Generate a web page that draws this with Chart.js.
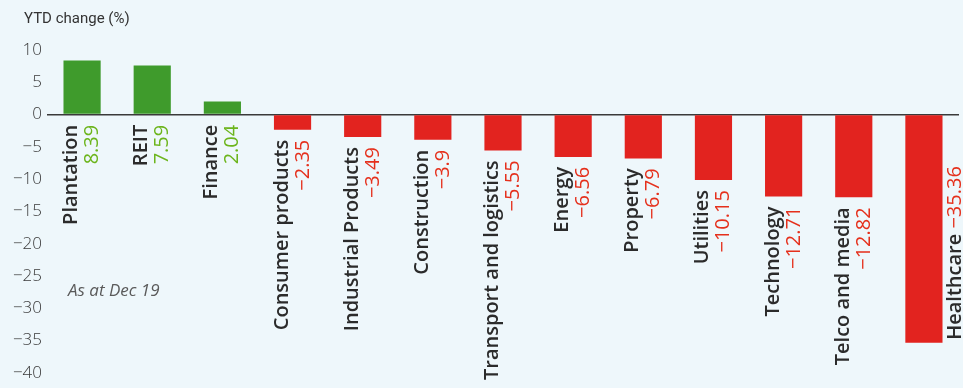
<!DOCTYPE html>
<html>
<head>
<meta charset="utf-8">
<script src="https://cdn.jsdelivr.net/npm/chart.js@4"></script>
<style>
  html, body { margin: 0; padding: 0; background: #eef7fb; }
  #wrap { width: 963px; height: 388px; position: relative; }
</style>
</head>
<body>
<div id="wrap"><canvas id="ytdChart"></canvas></div>
<script>
// Sector YTD change (%)
const categories = [
  "Plantation", "REIT", "Finance", "Consumer products", "Industrial Products",
  "Construction", "Transport and logistics", "Energy", "Property", "Utilities",
  "Technology", "Telco and media", "Healthcare"
];
const ytdChange = [8.39, 7.59, 2.04, -2.35, -3.49, -3.9, -5.55, -6.56, -6.79, -10.15, -12.71, -12.82, -35.36];
const yTicks = [10, 5, 0, -5, -10, -15, -20, -25, -30, -35, -40];
const noteText = "As at Dec 19";
const axisTitle = "YTD change (%)";

const GREEN = "#3f9b2c";
const RED = "#e2231f";
const GREEN_TXT = "#6cb51c";
const RED_TXT = "#e5301c";
const FONT = "'Open Sans', 'Noto Sans', sans-serif";

const fmt = (v) => String(v).replace("-", "\u2212");

// labels draaien we zelf, verticaal langs de staaf
const barLabels = {
  id: "barLabels",
  afterDatasetsDraw(chart) {
    const ctx = chart.ctx;
    const meta = chart.getDatasetMeta(0);
    const last = meta.data.length - 1;
    ctx.save();
    meta.data.forEach((bar, i) => {
      const v = ytdChange[i];
      const name = categories[i];
      const val = fmt(v);
      ctx.save();
      if (i === last) {
        // Healthcare: een regel naast de staaf
        ctx.translate(bar.x + bar.width / 2 + 18, bar.y - 3);
        ctx.rotate(-Math.PI / 2);
        ctx.textAlign = "left";
        ctx.font = `600 20px ${FONT}`;
        ctx.fillStyle = "#2b2b2b";
        ctx.fillText(name, 0, 0);
        const w = ctx.measureText(name + " ").width;
        ctx.font = `400 20px ${FONT}`;
        ctx.fillStyle = RED_TXT;
        ctx.fillText(val, w, 0);
      } else {
        const startY = v >= 0 ? bar.base + 11 : bar.y + 10;
        ctx.translate(bar.x, startY);
        ctx.rotate(-Math.PI / 2);
        ctx.textAlign = "right";
        ctx.font = `600 20px ${FONT}`;
        ctx.fillStyle = "#2b2b2b";
        ctx.fillText(name, 0, -5);
        ctx.font = `400 20px ${FONT}`;
        ctx.fillStyle = v >= 0 ? GREEN_TXT : RED_TXT;
        ctx.fillText(val, 0, 16);
      }
      ctx.restore();
    });

    // titel en notitie
    const y = chart.scales.y;
    ctx.textAlign = "left";
    ctx.textBaseline = "middle";
    ctx.fillStyle = "#333";
    ctx.font = `400 15px Roboto, ${FONT}`;
    ctx.fillText(axisTitle, 24, 19);
    ctx.font = `italic 400 17px ${FONT}`;
    ctx.fillStyle = "#5a5a5a";
    ctx.fillText(noteText, 68, y.getPixelForValue(-27.3));
    ctx.restore();
  }
};

new Chart(document.getElementById("ytdChart"), {
  type: "bar",
  data: {
    labels: categories,
    datasets: [
      {
        data: ytdChange,
        backgroundColor: ytdChange.map((v) => (v >= 0 ? GREEN : RED)),
        borderWidth: 0,
        categoryPercentage: 1,
        barPercentage: 0.53,
      },
    ],
  },
  options: {
    responsive: true,
    maintainAspectRatio: false,
    devicePixelRatio: 1,
    animation: false,
    layout: { padding: { top: 50, bottom: 9, left: 0, right: 4 } },
    plugins: {
      legend: { display: false },
      tooltip: { enabled: false },
    },
    scales: {
      x: { display: false },
      y: {
        min: -40,
        max: 10,
        afterFit: (s) => { s.width = 47; },
        afterBuildTicks: (s) => { s.ticks = yTicks.map((value) => ({ value })); },
        border: { display: false },
        grid: {
          drawTicks: false,
          color: (c) => (c.tick && c.tick.value === 0 ? "#3a3a3a" : "transparent"),
          lineWidth: 1.5,
        },
        ticks: {
          padding: 5,
          color: "#3a3a3a",
          font: { family: FONT, size: 17, weight: 300 },
          callback: (v) => fmt(v),
        },
      },
    },
  },
  plugins: [barLabels],
});
</script>
</body>
</html>
